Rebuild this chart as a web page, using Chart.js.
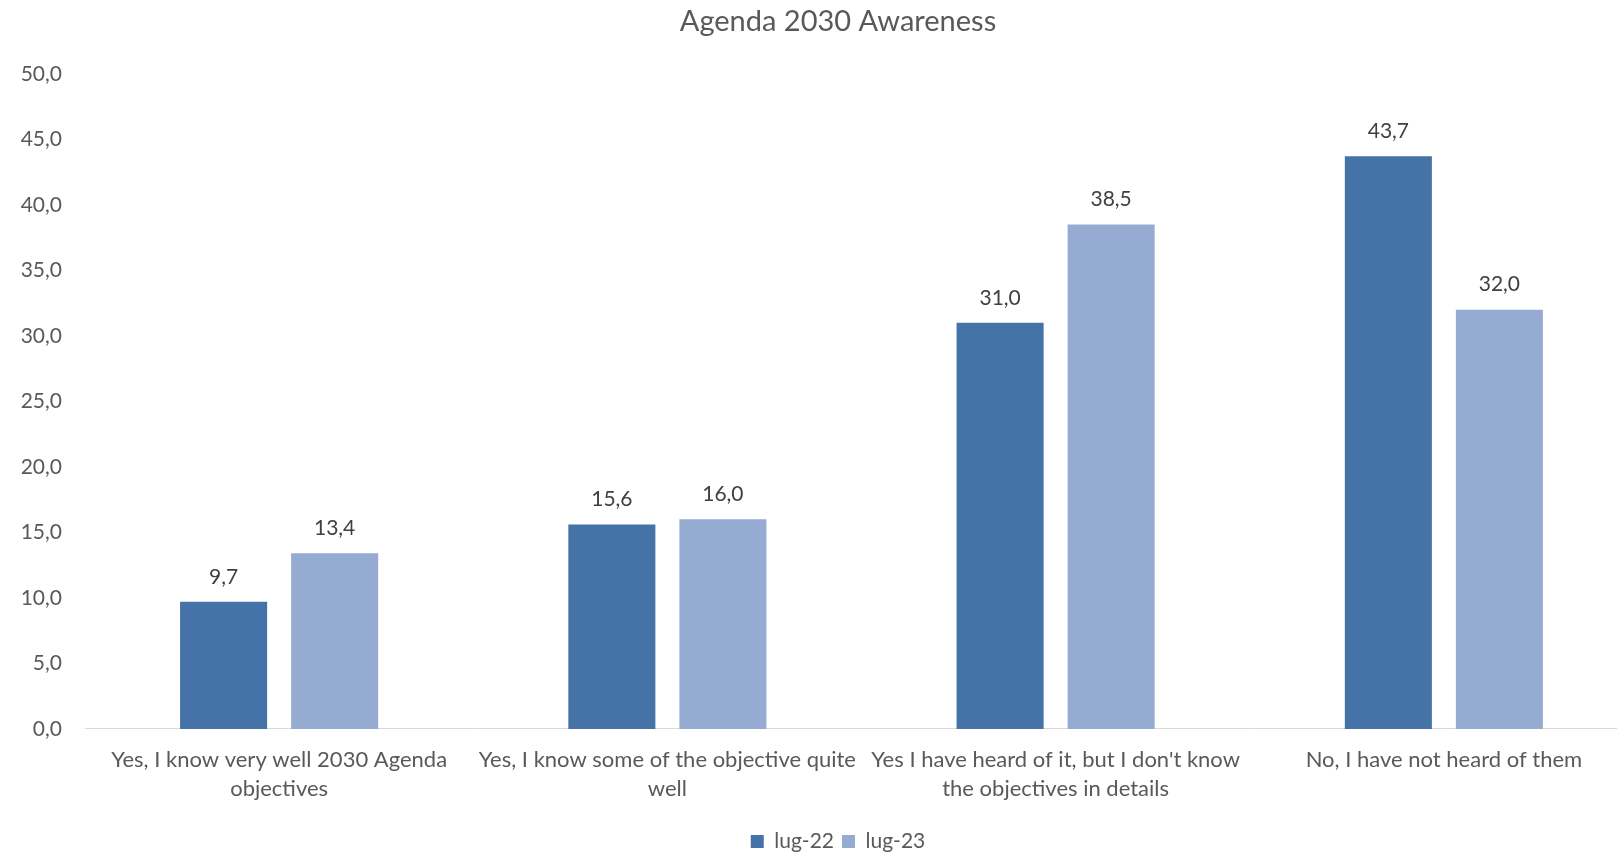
<!DOCTYPE html>
<html>
<head>
<meta charset="utf-8">
<title>Agenda 2030 Awareness</title>
<script src="https://cdn.jsdelivr.net/npm/chart.js@4"></script>
<style>
  html, body { margin: 0; padding: 0; background: #fff; overflow: hidden; }
  #wrap { width: 1676px; height: 852px; }
</style>
</head>
<body>
<div id="wrap"><canvas id="awarenessChart" width="1676" height="852"></canvas></div>
<script>
// Survey answers (wrapped the same way as on the axis)
const categories = [
  ['Yes, I know very well 2030 Agenda', 'objectives'],
  ['Yes, I know some of the objective quite', 'well'],
  ["Yes I have heard of it, but I don't know", 'the objectives in details'],
  ['No, I have not heard of them']
];
const seriesNames = ['lug-22', 'lug-23'];
const jul22 = [9.7, 15.6, 31.0, 43.7];
const jul23 = [13.4, 16.0, 38.5, 32.0];
const yTicks = [0, 5, 10, 15, 20, 25, 30, 35, 40, 45, 50];

const FONT = 'Lato, "Open Sans", sans-serif';
const fmt = v => v.toFixed(1).replace('.', ',');

// Writes the value above each bar
const valueLabels = {
  id: 'valueLabels',
  afterDatasetsDraw(chart) {
    const c = chart.ctx;
    c.save();
    c.font = '21px ' + FONT;
    c.fillStyle = '#404040';
    c.textAlign = 'center';
    c.textBaseline = 'middle';
    chart.data.datasets.forEach((ds, i) => {
      chart.getDatasetMeta(i).data.forEach((bar, j) => {
        c.fillText(fmt(ds.data[j]), bar.x, bar.y - 25);
      });
    });
    c.restore();
  }
};

const ctx = document.getElementById('awarenessChart').getContext('2d');
new Chart(ctx, {
  type: 'bar',
  data: {
    labels: categories,
    datasets: [
      { label: seriesNames[0], data: jul22, backgroundColor: '#4573A7' },
      { label: seriesNames[1], data: jul23, backgroundColor: '#95ABD1' }
    ]
  },
  options: {
    responsive: false,
    animation: false,
    layout: { padding: { left: 0, right: 0, top: 0, bottom: -10 } },
    datasets: {
      bar: { categoryPercentage: 0.572, barPercentage: 0.784 }
    },
    scales: {
      x: {
        afterFit(scale) { scale.height += 4; },
        grid: { display: false, drawTicks: false },
        border: { display: true, color: '#d9d9d9', width: 1 },
        ticks: {
          color: '#595959',
          font: { family: FONT, size: 22, lineHeight: 1.32 },
          padding: 16,
          maxRotation: 0,
          autoSkip: false
        }
      },
      y: {
        min: 0,
        max: 50,
        afterFit(scale) { scale.width = 85; },
        afterBuildTicks(scale) { scale.ticks = yTicks.map(v => ({ value: v })); },
        grid: { display: false, drawTicks: false },
        border: { display: false },
        ticks: {
          color: '#595959',
          font: { family: FONT, size: 21 },
          padding: 23,
          callback: v => fmt(v)
        }
      },
      // empty strip on the right so the plot stops short of the edge
      yRight: {
        position: 'right',
        min: 0,
        max: 50,
        afterFit(scale) { scale.width = 38; },
        grid: { display: false, drawTicks: false },
        border: { display: false },
        ticks: { display: false }
      }
    },
    plugins: {
      title: {
        display: true,
        text: 'Agenda 2030 Awareness',
        color: '#595959',
        font: { family: FONT, size: 29, weight: 'normal' },
        padding: { top: 4, bottom: 35 }
      },
      legend: {
        position: 'bottom',
        labels: {
          color: '#595959',
          font: { family: FONT, size: 21 },
          boxWidth: 13,
          boxHeight: 13,
          padding: 8
        }
      },
      tooltip: { enabled: false }
    }
  },
  plugins: [valueLabels]
});
</script>
</body>
</html>
